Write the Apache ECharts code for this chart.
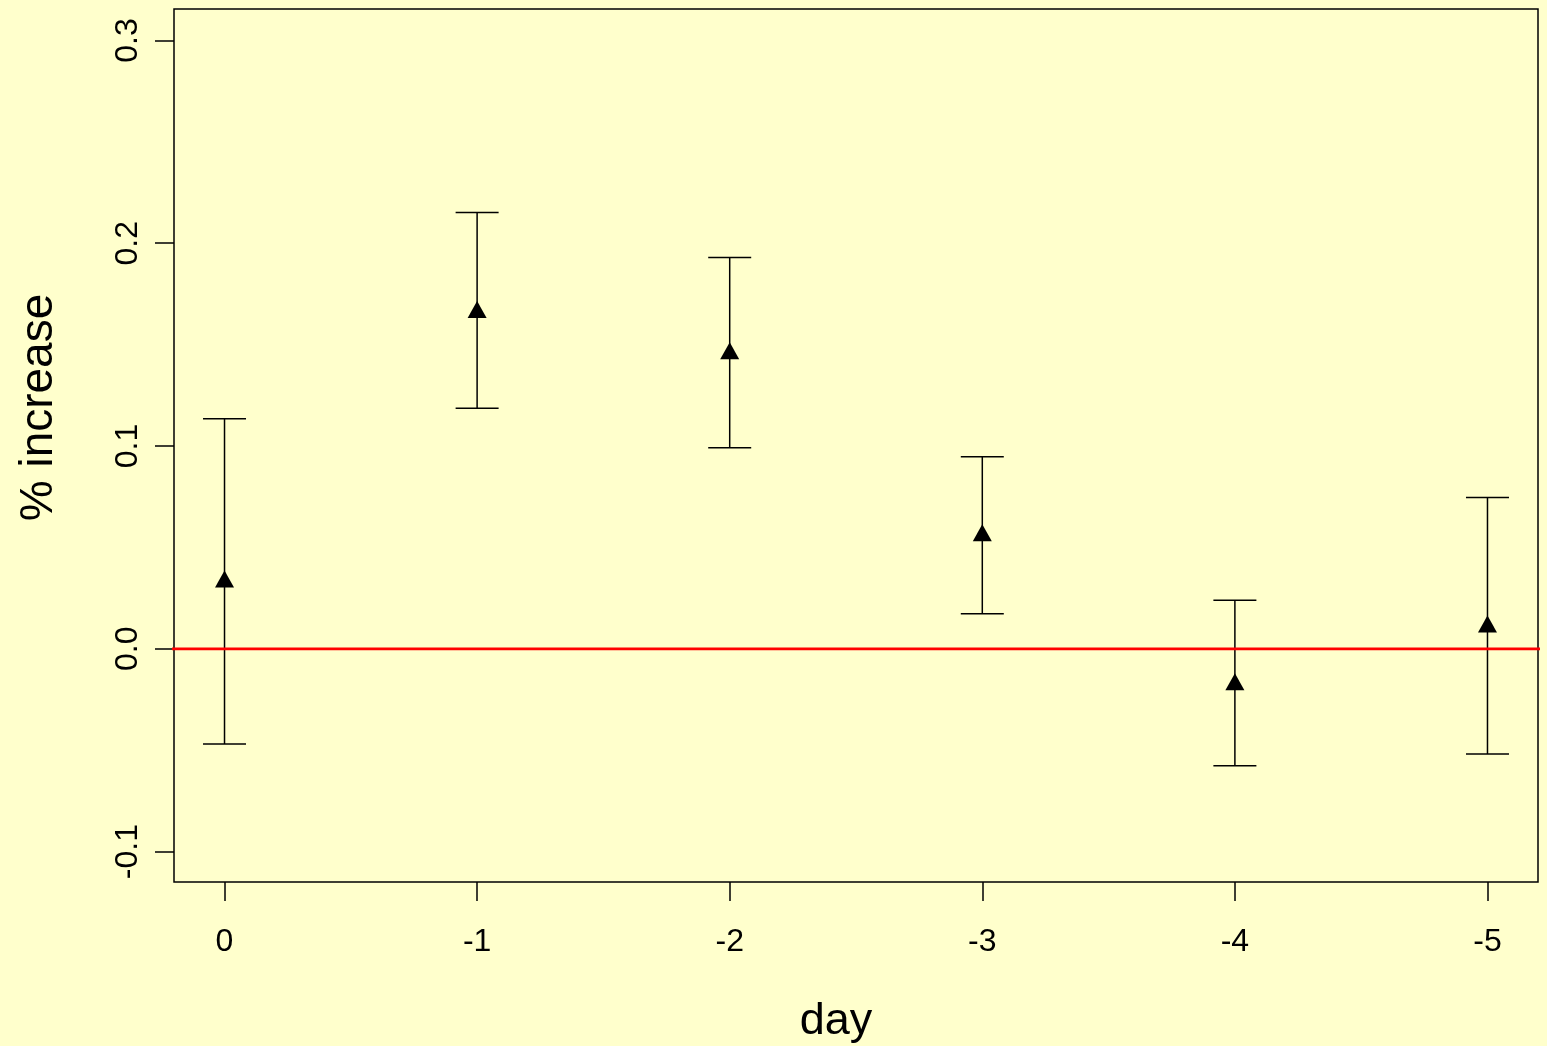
<!DOCTYPE html>
<html>
<head>
<meta charset="utf-8">
<script src="https://cdn.jsdelivr.net/npm/echarts@6/dist/echarts.min.js"></script>
<style>
  html, body { margin: 0; padding: 0; background: #FFFFCC; }
  #chart { width: 1547px; height: 1046px; }
</style>
</head>
<body>
<div id="chart"></div>
<script>
// Day offsets and estimated % increase with confidence limits
const days  = [0, -1, -2, -3, -4, -5];
const means = [0.0344, 0.1673, 0.1470, 0.0572, -0.0163, 0.0122];
const lower = [-0.0469, 0.1186, 0.0991, 0.0173, -0.0577, -0.0519];
const upper = [0.1134, 0.2152, 0.1930, 0.0947, 0.0239, 0.0746];

// Axis tick values
const xTicks = [0, -1, -2, -3, -4, -5];
const yTicks = [-0.1, 0.0, 0.1, 0.2, 0.3];

// Horizontal reference at zero, spanning the plot
const refY = 0;
const refX = [0.21, -5.25];

const FONT = '"Liberation Sans", Arial, sans-serif';

const chart = echarts.init(document.getElementById('chart'), null, { renderer: 'canvas' });

const option = {
  backgroundColor: '#FFFFCC',
  animation: false,
  textStyle: { fontFamily: FONT, color: '#000' },
  grid: {
    left: 174, right: 9, top: 9, bottom: 164,
    outerBoundsMode: 'none',
    containLabel: false,
    show: true, borderColor: '#000', borderWidth: 1.5,
    backgroundColor: 'transparent'
  },
  xAxis: {
    type: 'value',
    inverse: true,
    min: -5.2, max: 0.2,
    name: 'day',
    nameLocation: 'middle',
    nameGap: 117,
    nameTextStyle: { fontSize: 45, color: '#000', fontFamily: FONT, padding: [0, 40, 0, 0] },
    axisLine: { show: false, onZero: false },
    splitLine: { show: false },
    axisTick: {
      show: true, inside: false, length: 19,
      customValues: xTicks,
      lineStyle: { color: '#000', width: 1.5 }
    },
    axisLabel: {
      customValues: xTicks,
      fontSize: 32, color: '#000', fontFamily: FONT, margin: 44,
      formatter: v => String(v)
    }
  },
  yAxis: {
    type: 'value',
    min: -0.115, max: 0.3155,
    name: '% increase',
    nameLocation: 'middle',
    nameRotate: 90,
    nameGap: 112,
    nameTextStyle: { fontSize: 46, color: '#000', fontFamily: FONT, padding: [0, 0, 0, 76] },
    axisLine: { show: false, onZero: false },
    splitLine: { show: false },
    axisTick: {
      show: true, inside: false, length: 19,
      customValues: yTicks,
      lineStyle: { color: '#000', width: 1.5 }
    },
    axisLabel: {
      customValues: yTicks,
      rotate: 90,
      fontSize: 32, color: '#000', fontFamily: FONT, margin: 30,
      formatter: v => v.toFixed(1)
    }
  },
  series: [
    {
      // confidence intervals with end caps
      type: 'custom',
      z: 2,
      data: days.map((d, i) => [d, lower[i], upper[i]]),
      renderItem: function (params, api) {
        const x = api.value(0);
        const lo = api.coord([x, api.value(1)]);
        const hi = api.coord([x, api.value(2)]);
        const cap = 21.5;
        const style = { stroke: '#000', lineWidth: 1.5, fill: null };
        return {
          type: 'group',
          children: [
            { type: 'line', shape: { x1: lo[0], y1: lo[1], x2: hi[0], y2: hi[1] }, style },
            { type: 'line', shape: { x1: hi[0] - cap, y1: hi[1], x2: hi[0] + cap, y2: hi[1] }, style },
            { type: 'line', shape: { x1: lo[0] - cap, y1: lo[1], x2: lo[0] + cap, y2: lo[1] }, style }
          ]
        };
      }
    },
    {
      // zero reference line
      type: 'line',
      z: 5,
      clip: false,
      symbol: 'none',
      data: refX.map(x => [x, refY]),
      lineStyle: { color: '#FF0000', width: 2.8 },
      silent: true
    },
    {
      // point estimates
      type: 'scatter',
      z: 4,
      symbol: 'triangle',
      symbolSize: [19, 17],
      itemStyle: { color: '#000', opacity: 1 },
      data: days.map((d, i) => [d, means[i]])
    }
  ]
};

chart.setOption(option);
</script>
</body>
</html>
